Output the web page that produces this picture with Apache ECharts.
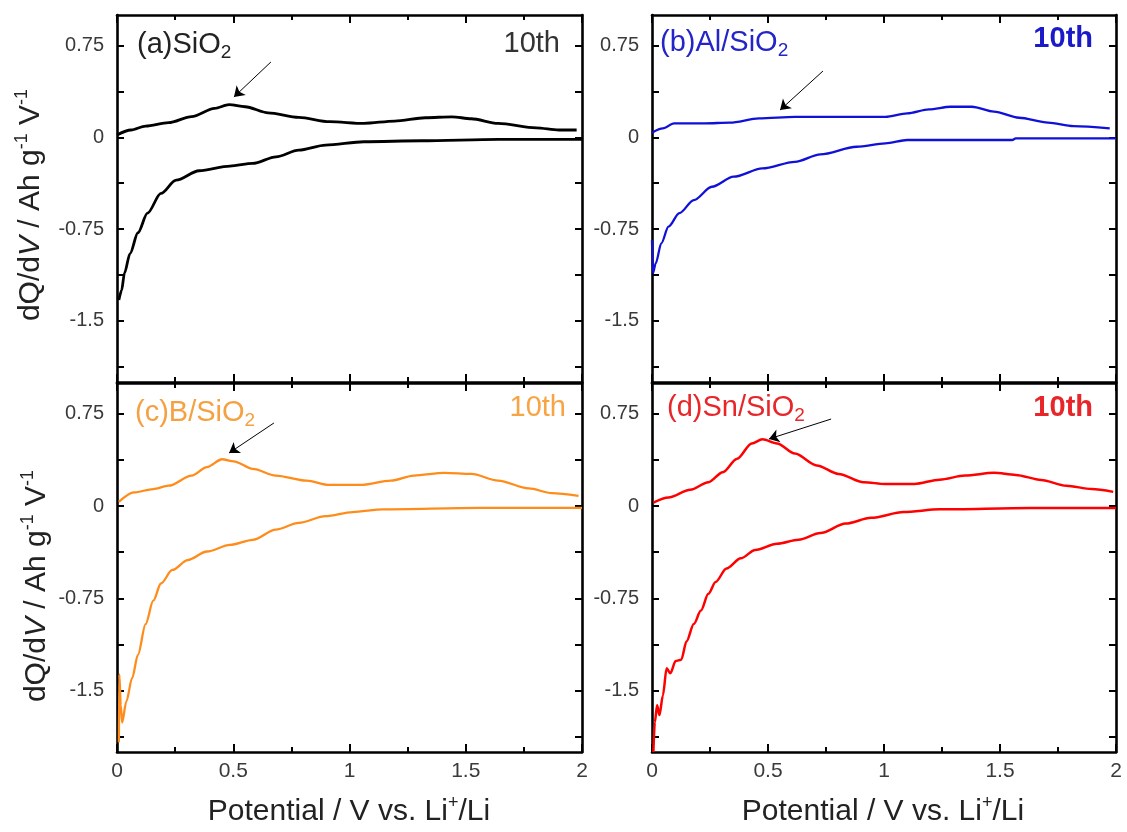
<!DOCTYPE html>
<html><head><meta charset="utf-8">
<script src="https://cdn.jsdelivr.net/npm/echarts@6/dist/echarts.min.js"></script>
<style>html,body{margin:0;padding:0;background:#fff}#c{width:1127px;height:832px}</style>
</head><body><div id="c"></div>
<script>
// ---- data ----
const xTickLabels = [0, 0.5, 1, 1.5, 2];
const yTickLabels = [-1.5, -0.75, 0, 0.75];
const yTicks = [-1.875, -1.5, -1.125, -0.75, -0.375, 0, 0.375, 0.75];

const aCharge = [[0,0.02],[0.06,0.06],[0.123,0.092],[0.222,0.12],[0.321,0.17],[0.42,0.237],[0.482,0.267],[0.551,0.25],[0.65,0.2],[0.782,0.163],[0.914,0.128],[1.062,0.114],[1.194,0.133],[1.326,0.16],[1.441,0.168],[1.523,0.152],[1.639,0.114],[1.803,0.078],[1.9,0.06],[1.977,0.06]];
const aDischarge = [[0.008,-1.33],[0.02,-1.25],[0.032,-1.11],[0.056,-0.95],[0.09,-0.78],[0.131,-0.62],[0.189,-0.458],[0.254,-0.35],[0.353,-0.273],[0.486,-0.235],[0.584,-0.213],[0.684,-0.159],[0.782,-0.104],[0.897,-0.063],[1.062,-0.036],[1.31,-0.028],[1.64,-0.016],[2.0,-0.016]];

const bCharge = [[0,0.038],[0.047,0.073],[0.095,0.114],[0.227,0.114],[0.336,0.12],[0.461,0.155],[0.616,0.168],[1.006,0.168],[1.10,0.196],[1.194,0.229],[1.287,0.25],[1.379,0.25],[1.474,0.21],[1.582,0.16],[1.707,0.12],[1.817,0.092],[1.973,0.073]];
const bDischarge = [[0,-0.84],[0.004,-1.11],[0.016,-1.03],[0.04,-0.867],[0.071,-0.73],[0.118,-0.62],[0.18,-0.513],[0.258,-0.404],[0.352,-0.322],[0.476,-0.254],[0.616,-0.2],[0.726,-0.139],[0.882,-0.077],[1.006,-0.049],[1.10,-0.022],[1.552,-0.022],[1.568,-0.008],[2.0,-0.008]];

const cCharge = [[0.008,0.033],[0.073,0.11],[0.156,0.138],[0.222,0.165],[0.321,0.247],[0.387,0.316],[0.452,0.38],[0.502,0.363],[0.584,0.302],[0.683,0.247],[0.815,0.206],[0.914,0.171],[1.045,0.171],[1.178,0.206],[1.277,0.247],[1.408,0.27],[1.524,0.261],[1.639,0.206],[1.771,0.143],[1.87,0.105],[1.985,0.082]];
const cDischarge = [[0.008,-1.92],[0.01,-1.37],[0.016,-1.62],[0.022,-1.76],[0.04,-1.59],[0.065,-1.40],[0.09,-1.21],[0.123,-0.96],[0.156,-0.77],[0.189,-0.63],[0.238,-0.52],[0.304,-0.44],[0.387,-0.37],[0.486,-0.316],[0.584,-0.275],[0.683,-0.192],[0.782,-0.137],[0.897,-0.082],[1.013,-0.049],[1.144,-0.027],[1.557,-0.016],[2.0,-0.016]];

const dCharge = [[0.006,0.028],[0.071,0.069],[0.165,0.132],[0.243,0.193],[0.305,0.275],[0.367,0.385],[0.43,0.509],[0.476,0.542],[0.539,0.509],[0.616,0.426],[0.71,0.33],[0.804,0.261],[0.913,0.193],[1.006,0.179],[1.131,0.179],[1.24,0.214],[1.349,0.247],[1.474,0.27],[1.568,0.253],[1.677,0.212],[1.786,0.165],[1.895,0.138],[1.988,0.115]];
const dDischarge = [[0.006,-2.0],[0.012,-1.76],[0.022,-1.62],[0.032,-1.70],[0.047,-1.54],[0.063,-1.32],[0.079,-1.36],[0.102,-1.26],[0.126,-1.25],[0.149,-1.10],[0.18,-0.96],[0.211,-0.85],[0.243,-0.714],[0.274,-0.618],[0.321,-0.508],[0.383,-0.425],[0.445,-0.357],[0.539,-0.307],[0.632,-0.275],[0.726,-0.22],[0.835,-0.143],[0.944,-0.096],[1.085,-0.049],[1.24,-0.027],[1.629,-0.016],[2.0,-0.016]];

const arrowA = [[0.662,0.616],[0.503,0.33]];
const arrowB = [[0.737,0.542],[0.552,0.223]];
const arrowC = [[0.675,0.675],[0.482,0.431]];
const arrowD = [[0.772,0.707],[0.504,0.545]];

// ---- layout / styles ----
const FF = 'Liberation Sans, Arial, sans-serif';
const panels = [
  {grid:{left:117, top:15, width:465, height:367}, charge:aCharge, discharge:aDischarge, arrow:arrowA, color:'#000000', lw:2.8,
   label:'(a)SiO', sub:'2', labelColor:'#222', lx:137, ly:45, tenColor:'#333', tenBold:false, tx:560, ty:44, xlab:false},
  {grid:{left:652, top:15, width:464, height:367}, charge:bCharge, discharge:bDischarge, arrow:arrowB, color:'#1010d8', lw:2.3,
   label:'(b)Al/SiO', sub:'2', labelColor:'#2424c8', lx:660, ly:43, tenColor:'#1a1ac8', tenBold:true, tx:1093, ty:39, xlab:false},
  {grid:{left:117, top:383, width:465, height:369}, charge:cCharge, discharge:cDischarge, arrow:arrowC, color:'#ff8c1a', lw:2.3,
   label:'(c)B/SiO', sub:'2', labelColor:'#f5a142', lx:135, ly:413, tenColor:'#f7a445', tenBold:false, tx:566, ty:408, xlab:true},
  {grid:{left:652, top:383, width:464, height:369}, charge:dCharge, discharge:dDischarge, arrow:arrowD, color:'#ff0000', lw:2.5,
   label:'(d)Sn/SiO', sub:'2', labelColor:'#e8262a', lx:667, ly:408, tenColor:'#e8262a', tenBold:true, tx:1093, ty:408, xlab:true}
];

const grids = [], xAxes = [], yAxes = [], series = [], graphics = [];
const lineW = 2.6;
panels.forEach((p, i) => {
  grids.push(Object.assign({containLabel:false}, p.grid));
  const baseX = {
    type:'value', gridIndex:i, min:0, max:2, interval:0.5,
    axisLine:{show:true, onZero:false, lineStyle:{color:'#000', width:lineW}},
    axisTick:{show:true, inside:true, length:8, lineStyle:{color:'#000', width:2}},
    minorTick:{show:true, splitNumber:2, length:5, lineStyle:{color:'#000', width:2}},
    splitLine:{show:false}, minorSplitLine:{show:false}
  };
  xAxes.push(Object.assign({}, baseX, {position:'bottom',
    axisLabel:{show:p.xlab, color:'#3a3a3a', fontSize:21, fontFamily:FF, margin:9}}));
  xAxes.push(Object.assign({}, baseX, {position:'top', axisLabel:{show:false}}));
  const baseY = {
    type:'value', gridIndex:i, min:-2, max:1,
    axisLine:{show:true, onZero:false, lineStyle:{color:'#000', width:lineW}},
    axisTick:{show:true, inside:true, length:7, customValues:yTicks, lineStyle:{color:'#000', width:2}},
    splitLine:{show:false}
  };
  yAxes.push(Object.assign({}, baseY, {position:'left',
    axisLabel:{show:true, customValues:yTickLabels, color:'#3a3a3a', fontSize:20, fontFamily:FF, margin:13}}));
  yAxes.push(Object.assign({}, baseY, {position:'right', axisLabel:{show:false}}));

  const ser = {type:'line', xAxisIndex:2*i, yAxisIndex:2*i, showSymbol:false, smooth:0.3, smoothMonotone:'x',
    lineStyle:{color:p.color, width:p.lw}, itemStyle:{color:p.color}, animation:false, silent:true};
  series.push(Object.assign({}, ser, {name:'charge'+i, data:p.charge,
    markLine:{silent:true, animation:false, symbol:['none','arrow'], symbolSize:10,
      lineStyle:{color:'#000', width:1, type:'solid'}, itemStyle:{color:'#000'}, label:{show:false},
      emphasis:{disabled:true},
      data:[[{coord:p.arrow[0], symbol:'none'},{coord:p.arrow[1], symbol:'arrow', symbolSize:10, itemStyle:{color:'#000'}}]]}}));
  series.push(Object.assign({}, ser, {name:'discharge'+i, data:p.discharge}));

  graphics.push({type:'text', x:p.lx, y:p.ly, silent:true,
    style:{text:'{n|'+p.label+'}{s|'+p.sub+'}', align:'left', verticalAlign:'middle', textAlign:'left', textVerticalAlign:'middle',
      rich:{n:{fontSize:29, fontFamily:FF, fill:p.labelColor, color:p.labelColor, lineHeight:34},
            s:{fontSize:19, fontFamily:FF, fill:p.labelColor, color:p.labelColor, lineHeight:22, verticalAlign:'bottom'}}}});
  graphics.push({type:'text', x:p.tx, y:p.ty, silent:true,
    style:{text:'10th', align:'right', verticalAlign:'middle', textAlign:'right', textVerticalAlign:'middle',
      font:(p.tenBold?'bold ':'')+'29px '+FF, fill:p.tenColor}});
});

// axis titles
const yTitle = '{n|dQ/d}{i|V}{n| / Ah g}{s|-1}{n| V}{s|-1}';
const yRich = {n:{fontSize:30, fontFamily:FF, fill:'#222', color:'#222', lineHeight:36},
               i:{fontSize:30, fontFamily:FF, fontStyle:'italic', fill:'#222', color:'#222', lineHeight:36},
               s:{fontSize:18, fontFamily:FF, fill:'#222', color:'#222', lineHeight:20, verticalAlign:'top'}};
[[31,205],[37,586]].forEach(([x,y]) => graphics.push({type:'text', x:x, y:y, rotation:Math.PI/2, silent:true,
  style:{text:yTitle, rich:yRich, align:'center', verticalAlign:'middle', textAlign:'center', textVerticalAlign:'middle'}}));
const xTitle = '{n|Potential / V vs. Li}{s|+}{n|/Li}';
const xRich = {n:{fontSize:30, fontFamily:FF, fill:'#222', color:'#222', lineHeight:36},
               s:{fontSize:18, fontFamily:FF, fill:'#222', color:'#222', lineHeight:20, verticalAlign:'top'}};
[[349,812],[883,812]].forEach(([x,y]) => graphics.push({type:'text', x:x, y:y, silent:true,
  style:{text:xTitle, rich:xRich, align:'center', verticalAlign:'middle', textAlign:'center', textVerticalAlign:'middle'}}));

const chart = echarts.init(document.getElementById('c'), null, {renderer:'canvas'});
chart.setOption({
  animation:false,
  backgroundColor:'#ffffff',
  grid:grids, xAxis:xAxes, yAxis:yAxes, series:series, graphic:graphics
});
</script></body></html>
